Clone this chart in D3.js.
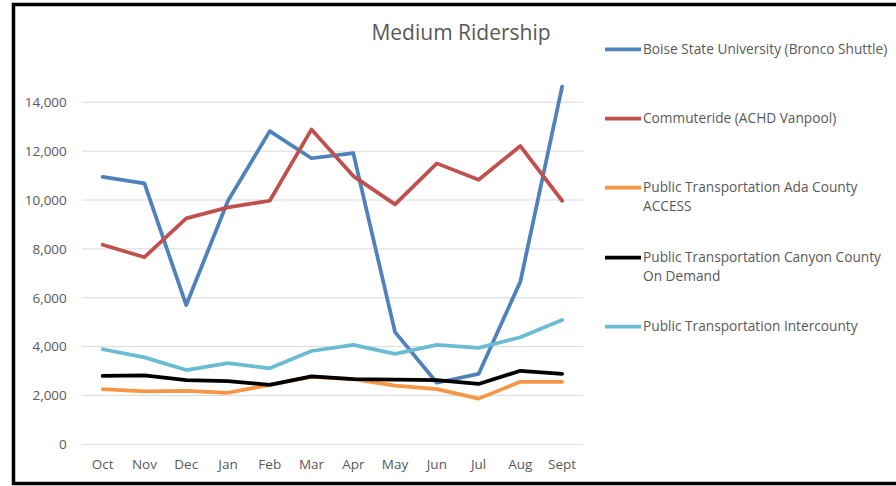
<!DOCTYPE html>
<html><head><meta charset="utf-8">
<script src="https://cdn.jsdelivr.net/npm/d3@7"></script>
<style>body{margin:0;background:#fff;}svg{display:block;}</style>
</head><body>
<svg id="c" width="896" height="486"></svg>
<script>
const months = ["Oct","Nov","Dec","Jan","Feb","Mar","Apr","May","Jun","Jul","Aug","Sept"];
const seriesNames = [
  "Boise State University (Bronco Shuttle)",
  "Commuteride (ACHD Vanpool)",
  "Public Transportation Ada County ACCESS",
  "Public Transportation Canyon County On Demand",
  "Public Transportation Intercounty"
];
const bsu       = [10950,10680,5700,9970,12820,11710,11920,4590,2520,2880,6660,14640];
const commute   = [8170,7660,9250,9700,9970,12890,10980,9820,11500,10830,12210,9970];
const adaAccess = [2260,2170,2190,2110,2430,2760,2670,2400,2260,1870,2560,2560];
const canyon    = [2800,2820,2630,2590,2430,2780,2670,2650,2630,2470,3010,2880];
const intercounty = [3890,3560,3040,3320,3110,3820,4070,3700,4070,3950,4380,5090];
const yTicks = [0,2000,4000,6000,8000,10000,12000,14000];
const legendLines = [
  ["Boise State University (Bronco Shuttle)"],
  ["Commuteride (ACHD Vanpool)"],
  ["Public Transportation Ada County","ACCESS"],
  ["Public Transportation Canyon County","On Demand"],
  ["Public Transportation Intercounty"]
];
const colors = ["#4F81BD","#C0504D","#F79646","#000000","#6ABCD2"];
const allSeries = [bsu, commute, adaAccess, canyon, intercounty];

const svg = d3.select("#c");
const font = "'Open Sans', sans-serif";
const txt = "#595959";

// frame
svg.append("rect").attr("x",13.5).attr("y",4.5).attr("width",890).attr("height",479)
  .attr("fill","none").attr("stroke","#000").attr("stroke-width",3.5);

const x = d3.scaleBand().domain(months).range([81.8,583]);
const y = d3.scaleLinear().domain([0,14000]).range([444.3,102.3]);

// gridlines
svg.append("g").selectAll("line").data(yTicks).join("line")
  .attr("x1",81.8).attr("x2",583).attr("y1",d=>y(d)).attr("y2",d=>y(d))
  .attr("stroke","#d9d9d9").attr("stroke-width",1);

// y axis labels
const yAxis = d3.axisLeft(y).tickValues(yTicks).tickFormat(d3.format(",")).tickSize(0).tickPadding(15);
const yg = svg.append("g").attr("transform","translate(81.8,0)").call(yAxis);
yg.select(".domain").remove();
yg.selectAll("text").attr("font-family",font).attr("font-size","13.5px").attr("fill",txt);

// x axis labels
const xAxis = d3.axisBottom(x).tickSize(0).tickPadding(15);
const xg = svg.append("g").attr("transform","translate(0,444.3)").call(xAxis);
xg.select(".domain").remove();
xg.selectAll("text").attr("font-family",font).attr("font-size","13.5px").attr("fill",txt);

// lines
const line = d3.line().x((d,i)=>x(months[i])+x.bandwidth()/2).y(d=>y(d));
allSeries.forEach((s,k)=>{
  svg.append("path").datum(s).attr("d",line).attr("fill","none")
    .attr("stroke",colors[k]).attr("stroke-width",3.75)
    .attr("stroke-linejoin","round").attr("stroke-linecap","round");
});

// title
svg.append("text").attr("x",461).attr("y",40).attr("text-anchor","middle")
  .attr("font-family",font).attr("font-size","21px").attr("fill",txt).text("Medium Ridership");

// legend
const legY = [49.3,118.7,187.7,257.7,326.7];
legendLines.forEach((lines,k)=>{
  const g = svg.append("g");
  g.append("line").attr("x1",605).attr("x2",641).attr("y1",legY[k]).attr("y2",legY[k])
    .attr("stroke",colors[k]).attr("stroke-width",3.75);
  lines.forEach((t,j)=>{
    g.append("text").attr("x",643).attr("y",legY[k]+19*j).attr("dy","0.35em")
      .attr("font-family",font).attr("font-size","13.7px").attr("fill",txt).text(t);
  });
});
</script>
</body></html>
